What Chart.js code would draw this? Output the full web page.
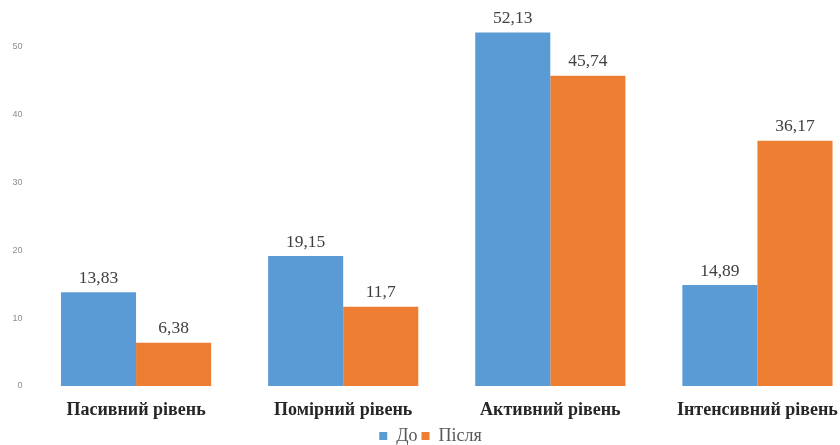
<!DOCTYPE html>
<html>
<head>
<meta charset="utf-8">
<script src="https://cdn.jsdelivr.net/npm/chart.js@4.4.1/dist/chart.umd.min.js"></script>
<style>
    html, body { margin: 0; padding: 0; background: #fff; overflow: hidden; }
    #wrap { position: absolute; left: 0; top: -40px; width: 861px; height: 495px; }
</style>
</head>
<body>
<div id="wrap"><canvas id="levelsChart"></canvas></div>
<script>
// Levels before / after
const categories = ['Пасивний рівень', 'Помірний рівень', 'Активний рівень', 'Інтенсивний рівень'];
const beforeValues = [13.83, 19.15, 52.13, 14.89];
const afterValues = [6.38, 11.7, 45.74, 36.17];
const seriesNames = ['До', 'Після'];
const yTicks = [0, 10, 20, 30, 40, 50, 60];

const serif = '"Liberation Serif", "Times New Roman", serif';

// Value labels above each bar, decimal comma
const valueLabels = {
    id: 'valueLabels',
    afterDatasetsDraw(chart) {
        const ctx = chart.ctx;
        ctx.save();
        ctx.font = '17.5px ' + serif;
        ctx.fillStyle = '#404040';
        ctx.textAlign = 'center';
        ctx.textBaseline = 'middle';
        chart.data.datasets.forEach((ds, i) => {
            const meta = chart.getDatasetMeta(i);
            meta.data.forEach((bar, j) => {
                const text = String(ds.data[j]).replace('.', ',');
                ctx.fillText(text, bar.x, bar.y - 14);
            });
        });
        ctx.restore();
    }
};

new Chart(document.getElementById('levelsChart'), {
    type: 'bar',
    data: {
        labels: categories,
        datasets: [
            {
                label: seriesNames[0],
                data: beforeValues,
                backgroundColor: '#5B9BD5',
                categoryPercentage: 0.725,
                barPercentage: 1
            },
            {
                label: seriesNames[1],
                data: afterValues,
                backgroundColor: '#ED7D31',
                categoryPercentage: 0.725,
                barPercentage: 1
            }
        ]
    },
    options: {
        responsive: true,
        maintainAspectRatio: false,
        animation: false,
        layout: { padding: { top: 19, left: 0, right: 0, bottom: 0 } },
        plugins: {
            legend: {
                position: 'bottom',
                labels: {
                    boxWidth: 8,
                    boxHeight: 8,
                    padding: 4,
                    color: '#595959',
                    font: { family: serif, size: 18 }
                }
            },
            tooltip: { enabled: false }
        },
        scales: {
            x: {
                grid: { display: false, drawTicks: false },
                border: { display: false },
                ticks: {
                    color: '#262626',
                    padding: 14,
                    font: { family: serif, size: 18, weight: 'bold' }
                },
                afterFit(scale) { scale.height = 37; }
            },
            y: {
                min: 0,
                max: 60,
                afterBuildTicks(scale) { scale.ticks = yTicks.map(v => ({ value: v })); },
                grid: { display: false, drawTicks: false },
                border: { display: false },
                ticks: {
                    color: '#8c8c8c',
                    padding: 10,
                    font: { family: '"Liberation Sans", Arial, sans-serif', size: 9 }
                },
                afterFit(scale) { scale.width = 32.5; }
            }
        }
    },
    plugins: [valueLabels]
});
</script>
</body>
</html>
